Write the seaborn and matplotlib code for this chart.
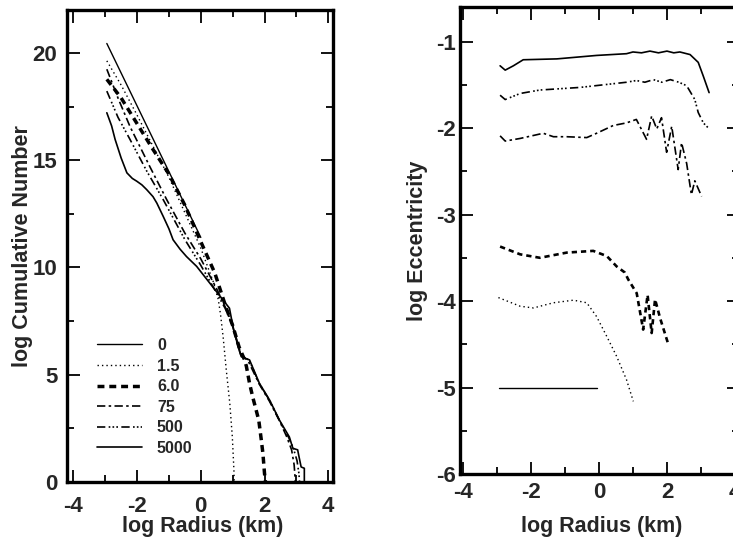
import numpy as np
import pandas as pd
import matplotlib
matplotlib.use("Agg")
import matplotlib.pyplot as plt
import seaborn as sns
from matplotlib.ticker import MultipleLocator

sns.set_theme(style="ticks")
plt.rcParams['font.family'] = ['Liberation Sans', 'DejaVu Sans']
plt.rcParams['font.weight'] = 'bold'
plt.rcParams['axes.labelweight'] = 'bold'
plt.rcParams['axes.unicode_minus'] = False

labels = ["0", "1.5", "6.0", "75", "500", "5000"]

# ---- Left panel: log cumulative number vs log radius ----
cum_x_0 = [-2.95, 0.0]
cum_y_0 = [20.44, 11.4]

cum_x_15 = [-2.95, -2.5, -2.0, -1.0, 0.0, 0.4, 0.55, 0.62, 0.7, 0.8, 0.91, 0.99, 1.04, 1.05]
cum_y_15 = [19.63, 18.5, 17.1, 14.2, 10.9, 9.3, 8.5, 7.8, 6.78, 5.22, 3.67, 2.1, 0.55, 0.0]

cum_x_60 = [-2.95, -2.5, -2.0, -1.5, -1.0, -0.5, 0.0, 0.44, 0.8, 1.0, 1.2, 1.375, 1.43, 1.53, 1.63,
            1.82, 1.9, 1.95, 2.0, 2.03]
cum_y_60 = [18.77, 17.9, 16.7, 15.5, 14.35, 12.9, 11.2, 9.74, 8.1, 7.3, 6.3, 5.69, 5.4, 4.6, 3.96,
            2.88, 1.95, 1.33, 0.4, 0.0]

cum_x_75 = [-2.95, -2.6, -2.22, -1.6, -1.07, -0.5, 0.0, 0.5, 0.8, 1.0, 1.25, 1.5, 1.84, 2.16, 2.47,
            2.7, 2.85, 2.93, 2.97]
cum_y_75 = [19.24, 17.9, 16.56, 14.7, 13.16, 11.6, 10.4, 9.0, 8.05, 7.3, 6.0, 5.6, 4.55, 3.75, 2.85,
            2.1, 1.5, 0.8, 0.0]

cum_x_500 = [-2.95, -2.6, -2.22, -1.7, -1.18, -0.5, 0.0, 0.5, 0.8, 1.0, 1.25, 1.53, 1.84, 2.16, 2.47,
             2.75, 2.9, 3.02, 3.08, 3.1]
cum_y_500 = [18.22, 17.0, 15.96, 14.5, 13.16, 11.3, 10.1, 8.8, 8.0, 7.25, 5.95, 5.65, 4.58, 3.8, 2.87,
             2.1, 1.6, 1.0, 0.4, 0.0]

cum_x_5000 = [-2.95, -2.8, -2.69, -2.5, -2.32, -2.15, -2.01, -1.85, -1.70, -1.5, -1.38, -1.18, -1.0,
              -0.87, -0.65, -0.45, -0.13, 0.9, 1.01, 1.17, 1.27, 1.53, 1.84, 2.16, 2.47, 2.78, 2.89,
              3.04, 3.08, 3.15, 3.25, 3.25]
cum_y_5000 = [17.21, 16.6, 15.97, 15.1, 14.41, 14.15, 14.02, 13.85, 13.63, 13.3, 13.0, 12.38, 11.8,
              11.29, 10.85, 10.51, 10.05, 8.1, 7.24, 6.31, 5.84, 5.69, 4.6, 3.82, 2.88, 2.1, 1.57,
              1.5, 1.2, 0.7, 0.64, 0.0]

# ---- Right panel: log eccentricity vs log radius ----
ecc_x_0 = [-2.93, -0.05]
ecc_y_0 = [-5.0, -5.0]

ecc_x_15 = [-2.96, -2.32, -1.93, -1.34, -0.75, -0.36, -0.07, 0.23, 0.52, 0.81, 1.01]
ecc_y_15 = [-3.96, -4.06, -4.08, -4.02, -3.99, -4.02, -4.18, -4.41, -4.64, -4.91, -5.16]

ecc_x_60 = [-2.91, -2.32, -1.74, -0.95, -0.17, 0.23, 0.52, 0.76, 0.86, 1.11, 1.30, 1.43, 1.55, 1.65, 1.8, 2.04]
ecc_y_60 = [-3.37, -3.46, -3.50, -3.44, -3.42, -3.48, -3.60, -3.67, -3.75, -3.91, -4.33, -3.93, -4.37, -3.98, -4.2, -4.5]

ecc_x_75 = [-2.91, -2.76, -2.32, -1.64, -1.34, -0.95, -0.36, -0.07, 0.42, 0.81, 1.1, 1.4, 1.55, 1.7,
            1.84, 1.99, 2.14, 2.33, 2.43, 2.58, 2.72, 2.82, 3.02]
ecc_y_75 = [-2.09, -2.15, -2.12, -2.06, -2.10, -2.10, -2.11, -2.06, -1.97, -1.94, -1.90, -2.13, -1.86, -2.01,
            -1.88, -2.28, -1.98, -2.48, -2.17, -2.41, -2.77, -2.61, -2.79]

ecc_x_500 = [-2.91, -2.76, -2.32, -1.74, -0.56, 0.81, 1.1, 1.35, 1.6, 1.85, 2.1, 2.35, 2.58, 2.82, 2.92, 3.07, 3.22]
ecc_y_500 = [-1.62, -1.67, -1.60, -1.56, -1.53, -1.47, -1.45, -1.47, -1.44, -1.47, -1.44, -1.47, -1.51, -1.67, -1.82, -1.94, -2.0]

ecc_x_5000 = [-2.91, -2.76, -2.52, -2.23, -1.24, -0.07, 0.81, 1.0, 1.25, 1.5, 1.75, 2.0, 2.2, 2.38, 2.68, 2.92, 3.07, 3.24]
ecc_y_5000 = [-1.28, -1.33, -1.28, -1.21, -1.20, -1.16, -1.14, -1.12, -1.13, -1.11, -1.13, -1.11, -1.13, -1.12, -1.15, -1.24, -1.40, -1.59]

cum_series = [(cum_x_0, cum_y_0), (cum_x_15, cum_y_15), (cum_x_60, cum_y_60),
              (cum_x_75, cum_y_75), (cum_x_500, cum_y_500), (cum_x_5000, cum_y_5000)]
ecc_series = [(ecc_x_0, ecc_y_0), (ecc_x_15, ecc_y_15), (ecc_x_60, ecc_y_60),
              (ecc_x_75, ecc_y_75), (ecc_x_500, ecc_y_500), (ecc_x_5000, ecc_y_5000)]

styles_L = [
    dict(lw=1.0, ls='-'),
    dict(lw=1.0, ls=(0, (1, 2.2))),
    dict(lw=2.5, ls=(0, (2, 1.4))),
    dict(lw=1.2, ls=(0, (5, 2, 1.5, 2))),
    dict(lw=1.2, ls=(0, (5, 2, 1, 1.3, 1, 1.3, 1, 2))),
    dict(lw=1.2, ls='-'),
]
styles_R = [
    dict(lw=1.0, ls='-'),
    dict(lw=1.0, ls=(0, (1, 2.2))),
    dict(lw=1.9, ls=(0, (2, 1.5))),
    dict(lw=1.2, ls=(0, (5, 2, 1.5, 2))),
    dict(lw=1.2, ls=(0, (5, 2, 1, 1.3, 1, 1.3, 1, 2))),
    dict(lw=1.2, ls='-'),
]

fig = plt.figure(figsize=(7.33, 5.42), dpi=100)
axL = fig.add_axes([67/733, 60/542, 266/733, 472/542])
axR = fig.add_axes([460/733, 68/542, 279/733, 467/542])

for (x, y), lab, st in zip(cum_series, labels, styles_L):
    df = pd.DataFrame({"x": x, "y": y})
    sns.lineplot(data=df, x="x", y="y", ax=axL, color='black', sort=False,
                 estimator=None, label=lab, linewidth=st['lw'], linestyle=st['ls'])

for (x, y), lab, st in zip(ecc_series, labels, styles_R):
    df = pd.DataFrame({"x": x, "y": y})
    sns.lineplot(data=df, x="x", y="y", ax=axR, color='black', sort=False,
                 estimator=None, linewidth=st['lw'], linestyle=st['ls'], legend=False)

axL.set_xlim(-4.2, 4.15)
axL.set_ylim(0, 22)
axR.set_xlim(-4.09, 4.12)
axR.set_ylim(-6, -0.6)

axL.xaxis.set_major_locator(MultipleLocator(2))
axL.xaxis.set_minor_locator(MultipleLocator(1))
axL.yaxis.set_major_locator(MultipleLocator(5))
axL.yaxis.set_minor_locator(MultipleLocator(2.5))
axR.xaxis.set_major_locator(MultipleLocator(2))
axR.xaxis.set_minor_locator(MultipleLocator(1))
axR.yaxis.set_major_locator(MultipleLocator(1))
axR.yaxis.set_minor_locator(MultipleLocator(0.5))

for ax in (axL, axR):
    for s in ax.spines.values():
        s.set_linewidth(2.4)
        s.set_color('black')
    ax.tick_params(which='both', direction='in', top=True, right=True, color='black', width=1.3)
    ax.tick_params(which='major', length=9, labelsize=16)
    ax.tick_params(which='minor', length=5)
    for t in ax.get_xticklabels() + ax.get_yticklabels():
        t.set_fontweight('bold')

axL.tick_params(axis='x', which='major', pad=10)
axL.tick_params(axis='y', which='major', pad=7)
axR.tick_params(axis='x', which='major', pad=6)
axR.tick_params(axis='y', which='major', pad=3)

axL.set_xlabel("log Radius (km)", fontsize=15.5, fontweight='bold')
axL.set_ylabel("log Cumulative Number", fontsize=15.5, fontweight='bold')
axR.set_xlabel("log Radius (km)", fontsize=15.5, fontweight='bold')
axR.set_ylabel("log Eccentricity", fontsize=15.5, fontweight='bold')
axL.xaxis.set_label_coords(0.511, -0.072)
axR.xaxis.set_label_coords(0.508, -0.09)
axL.yaxis.set_label_coords(-0.128, 0.5)
axR.yaxis.set_label_coords(-0.115, 0.5)

leg = axL.legend(loc='upper left', bbox_to_anchor=(0.113, 0.305), frameon=False,
                 prop={'size': 11.5, 'weight': 'bold'}, handlelength=2.8, handletextpad=0.95,
                 labelspacing=0.35, borderpad=0, borderaxespad=0)

fig.savefig("out.png", dpi=100)
